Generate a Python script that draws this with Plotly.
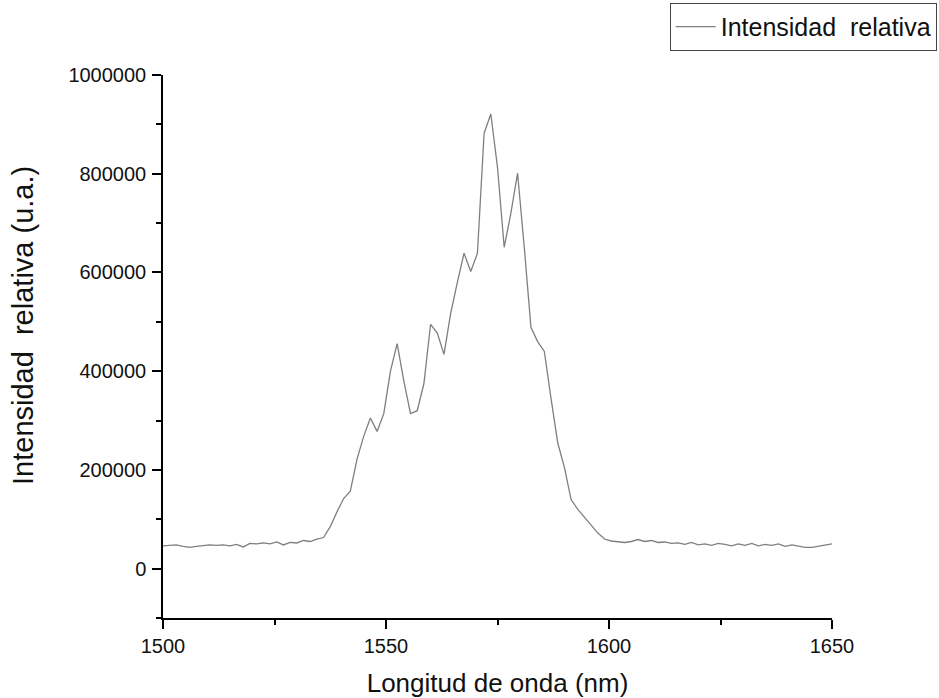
import plotly.graph_objects as go

# Wavelength grid (nm) and relative intensity (a.u.)
wavelength_start = 1500
wavelength_step = 1.5
intensity = [
    46000, 47000, 48000, 45000, 43000, 45000, 47000, 48000, 47000, 48000,
    46000, 49000, 44000, 51000, 50000, 52000, 50000, 54000, 48000, 53000,
    52000, 57000, 55000, 60000, 63000, 85000, 115000, 142000, 157000, 222000,
    268000, 305000, 278000, 314000, 400000, 456000, 380000, 314000, 320000, 375000,
    495000, 477000, 434000, 517000, 580000, 639000, 602000, 639000, 882000, 921000,
    813000, 651000, 720000, 801000, 651000, 489000, 460000, 440000, 345000, 255000,
    205000, 140000, 120000, 103000, 88000, 72000, 60000, 56000, 54000, 53000,
    55000, 59000, 55000, 57000, 53000, 54000, 51000, 52000, 49000, 53000,
    48000, 50000, 47000, 51000, 49000, 46000, 50000, 47000, 51000, 46000,
    49000, 47000, 50000, 45000, 48000, 46000, 43000, 43000, 45000, 47000,
    50000,
]
wavelength = [wavelength_start + wavelength_step * i for i in range(len(intensity))]

series_name = "Intensidad\u00a0\u00a0relativa"
x_title = "Longitud de onda (nm)"
y_title = "Intensidad\u00a0\u00a0relativa (u.a.)"

fig = go.Figure()
fig.add_trace(go.Scatter(
    x=wavelength, y=intensity, mode="lines", name=series_name,
    line=dict(color="#7f7f7f", width=1.3),
    showlegend=True,
))

font_family = "Liberation Sans, Arial, sans-serif"

fig.update_layout(
    width=939, height=698,
    margin=dict(l=163, r=107, t=75, b=80, autoexpand=False),
    paper_bgcolor="white", plot_bgcolor="white",
    font=dict(family=font_family, color="#111111"),
    showlegend=True,
    legend=dict(
        x=1.1565, xanchor="right", xref="paper",
        y=1.133, yanchor="top", yref="paper",
        bordercolor="#444444", borderwidth=1,
        bgcolor="white",
        font=dict(size=25, family=font_family, color="#111111"),
        itemwidth=40,
    ),
    xaxis=dict(
        range=[1500, 1650], tick0=1500, dtick=50,
        showline=True, linecolor="black", linewidth=1.5,
        ticks="outside", ticklen=9, tickwidth=1.5, tickcolor="black",
        minor=dict(ticks="outside", ticklen=5, tickwidth=1.5, dtick=25, tickcolor="black"),
        showgrid=False, zeroline=False, mirror=False,
        tickfont=dict(size=20, family=font_family, color="#111111"),
        title=dict(text=x_title, font=dict(size=26, family=font_family, color="#111111"), standoff=18),
    ),
    yaxis=dict(
        range=[-100000, 1000000], tick0=0, dtick=200000, tickformat="d",
        showline=True, linecolor="black", linewidth=1.5,
        ticks="outside", ticklen=9, tickwidth=1.5, tickcolor="black",
        minor=dict(ticks="outside", ticklen=5, tickwidth=1.5, dtick=100000, tickcolor="black"),
        showgrid=False, zeroline=False, mirror=False,
        tickfont=dict(size=20, family=font_family, color="#111111"),
        ticklabelstandoff=2,
    ),
    annotations=[dict(
        text=y_title, textangle=-90, showarrow=False,
        xref="paper", yref="paper",
        x=-0.2093, y=0.5396, xanchor="center", yanchor="middle",
        font=dict(size=29, family=font_family, color="#111111"),
    )],
)

fig.write_html("out.html")
